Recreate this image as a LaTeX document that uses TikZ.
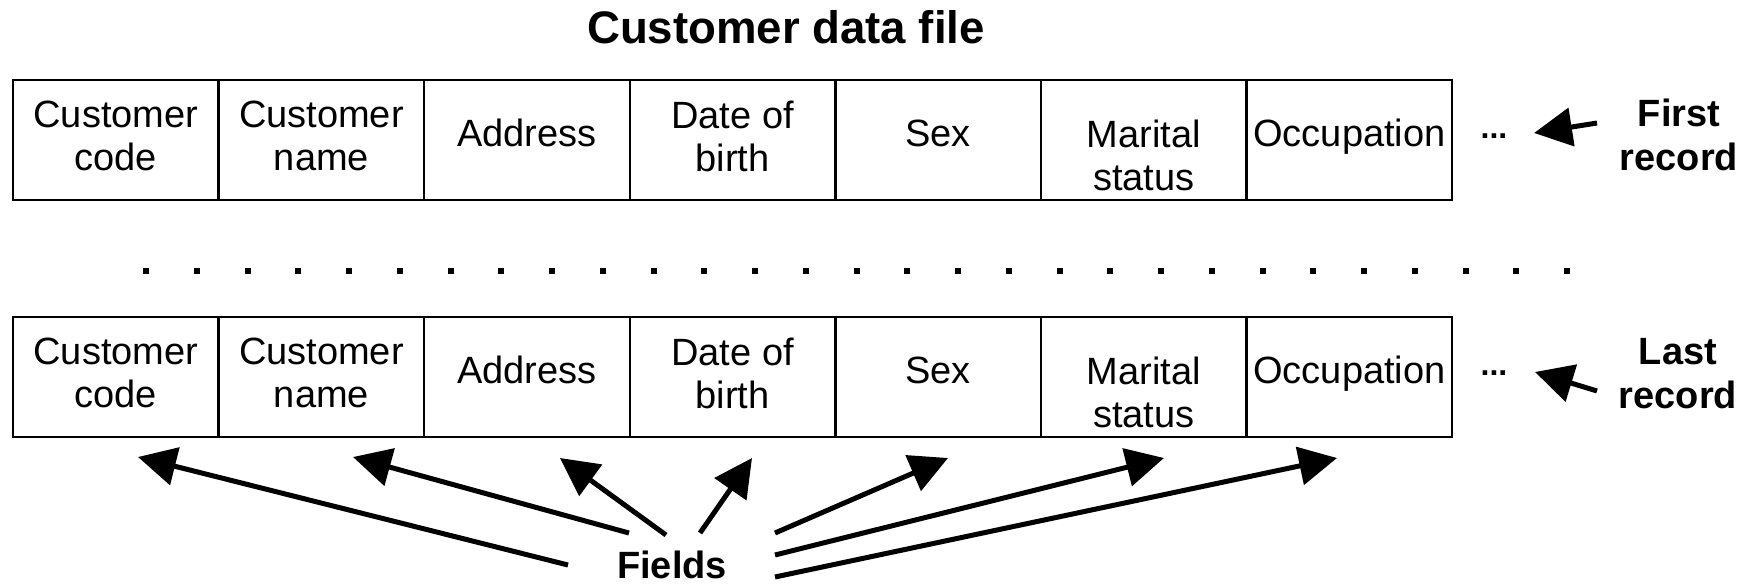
\documentclass[tikz,border=0pt]{standalone}
\usepackage{fontspec}
\setmainfont{Liberation Sans}
\usetikzlibrary{arrows.meta}
\begin{document}
\begin{tikzpicture}[x=0.5pt,y=-0.5pt,
  cell/.style={draw, line width=1.25pt, minimum width=102.8pt, minimum height=60pt, inner sep=0pt, outer sep=0pt},
  celltext/.style={font=\fontsize{19}{21.5}\selectfont, align=center, inner sep=0pt,
    execute at begin node=\strut, execute at end node=\strut},
  lbl/.style={font=\fontsize{19}{22}\selectfont\bfseries, align=center, inner sep=0pt,
    execute at begin node=\strut, execute at end node=\strut},
  ellip/.style={font=\fontsize{16}{18}\selectfont\bfseries, inner sep=0pt, anchor=base},
  arr/.style={line width=2.5pt, -{Triangle[length=19pt,width=19pt]}},
  sqdot/.style={fill=black},
]
\useasboundingbox (0,0) rectangle (1748,583);

% title
\node[font=\fontsize{22.8}{25}\selectfont\bfseries, inner sep=0pt, anchor=base] (title) at (786,44) {Customer data file};

% first and last record
\foreach \r/\y in {a/140, b/377} {
  \foreach \i/\t/\s in {1/{Customer\\code}/1.25, 2/{Customer\\name}/1.25, 3/{Address}/-1.25, 4/{Date of\\birth}/1.25, 5/{Sex}/-1.25, 6/{Marital\\status}/10.75, 7/{Occupation}/-1.25} {
    \node[cell] (\r\i) at ({13+205.6*(\i-0.5)},\y) {};
    \node[celltext] (\r t\i) at ([yshift=-\s pt]\r\i.center) {\t};
  }
}

% ellipses after records
\node[ellip] (ea) at (1494,138) {...};
\node[ellip] (eb) at (1494,375) {...};

% record labels
\node[lbl] (first) at (1679,141) {First\\record};
\node[lbl] (last) at (1678,380) {Last\\record};

\coordinate (fa-tail) at (1597,123);
\coordinate (fa-tip) at (1534,133);
\coordinate (la-tail) at (1597,391);
\coordinate (la-tip) at (1535,372);
\draw[arr] (fa-tail) -- (fa-tip);
\draw[arr] (la-tail) -- (la-tip);

% row of dots between records
\foreach \k in {0,...,28} {
  \fill[sqdot] ({146+50.75*\k-3},268) rectangle ++(6,6);
}

% fields label and arrows
\node[font=\fontsize{19}{22}\selectfont\bfseries, inner sep=0pt, anchor=base] (fields) at (672,578) {Fields};

\foreach \n/\tx/\ty/\hx/\hy in {1/568/565/138/457, 2/629/533/353/457, 3/666/535/560/458, 4/700/533/752/458, 5/775/533/948/458, 6/775/555/1164/458, 7/775/577/1337/458} {
  \coordinate (ft\n) at (\tx,\ty);
  \coordinate (fh\n) at (\hx,\hy);
  \draw[arr] (ft\n) -- (fh\n);
}
\end{tikzpicture}
\end{document}
